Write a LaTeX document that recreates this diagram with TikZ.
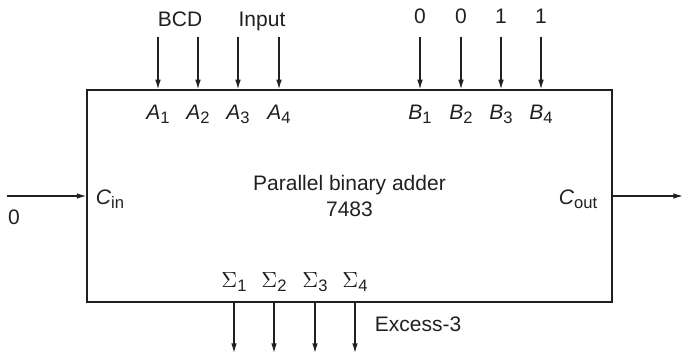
\documentclass[tikz,border=0pt]{standalone}
\usepackage{fontspec}
\setmainfont{Liberation Sans}
\usetikzlibrary{arrows.meta,positioning}
\definecolor{ink}{HTML}{231F20}
\newcommand{\subpin}[1]{\raisebox{-1.8pt}{\fontsize{8.3}{10}\selectfont #1}}
\newcommand{\pinname}[2]{\textit{#1}\subpin{#2}}
\tikzset{
  adderbox/.style={
    rectangle, draw=ink, line width=0.65pt, text=ink,
    minimum width=262.5pt, minimum height=106pt, inner sep=0pt,
    align=center, font=\fontsize{10.5}{13}\selectfont
  },
  pinarrow/.style={
    -{Latex[length=4.8pt, width=2.8pt]}, line width=0.65pt, draw=ink
  },
  pinlabel/.style={font=\fontsize{10.5}{13}\selectfont, text=ink, anchor=base, inner sep=0pt}
}

\begin{document}
\begin{tikzpicture}[x=0.5pt, y=-0.5pt]
    \useasboundingbox (0,0) rectangle (685,356);
    \node[adderbox] (adder) at (349.5,196) {Parallel binary adder\\7483};

    % A inputs
    \node[pinlabel] (bcd) at (180,27) {BCD};
    \node[pinlabel] (input) at (262,27) {Input};
    \node[pinlabel] (a1) at (158,120) {\pinname{A}{1}};
    \node[pinlabel] (a2) at (198,120) {\pinname{A}{2}};
    \node[pinlabel] (a3) at (238,120) {\pinname{A}{3}};
    \node[pinlabel] (a4) at (279,120) {\pinname{A}{4}};
    \draw[pinarrow] (a1 |- 0,37) -- (a1 |- adder.north);
    \draw[pinarrow] (a2 |- 0,37) -- (a2 |- adder.north);
    \draw[pinarrow] (a3 |- 0,37) -- (a3 |- adder.north);
    \draw[pinarrow] (a4 |- 0,37) -- (a4 |- adder.north);

    % B inputs
    \node[pinlabel] (b1) at (420,120) {\pinname{B}{1}};
    \node[pinlabel] (b2) at (461,120) {\pinname{B}{2}};
    \node[pinlabel] (b3) at (501,120) {\pinname{B}{3}};
    \node[pinlabel] (b4) at (541,120) {\pinname{B}{4}};
    \node[pinlabel] (b1val) at (420,24) {0};
    \node[pinlabel] (b2val) at (461,24) {0};
    \node[pinlabel] (b3val) at (501,24) {1};
    \node[pinlabel] (b4val) at (541,24) {1};
    \draw[pinarrow] (b1 |- 0,37) -- (b1 |- adder.north);
    \draw[pinarrow] (b2 |- 0,37) -- (b2 |- adder.north);
    \draw[pinarrow] (b3 |- 0,37) -- (b3 |- adder.north);
    \draw[pinarrow] (b4 |- 0,37) -- (b4 |- adder.north);

    % carries
    \coordinate (cinsrc) at (7,196);
    \coordinate (coutdst) at (683,196);
    \node[pinlabel] (cin) at (110,205) {\pinname{C}{in}};
    \node[pinlabel] (cinval) at (14,225) {0};
    \node[pinlabel] (cout) at (578,205) {\pinname{C}{out}};
    \draw[pinarrow] (cinsrc) -- (adder.west);
    \draw[pinarrow] (adder.east) -- (coutdst);

    % sum outputs
    \node[pinlabel] (s1) at (234,288) {$\Sigma$\subpin{1}};
    \node[pinlabel] (s2) at (274,288) {$\Sigma$\subpin{2}};
    \node[pinlabel] (s3) at (315,288) {$\Sigma$\subpin{3}};
    \node[pinlabel] (s4) at (355,288) {$\Sigma$\subpin{4}};
    \node[pinlabel] (excess) at (418,332) {Excess-3};
    \draw[pinarrow] (s1 |- adder.south) -- (s1 |- 0,353);
    \draw[pinarrow] (s2 |- adder.south) -- (s2 |- 0,353);
    \draw[pinarrow] (s3 |- adder.south) -- (s3 |- 0,353);
    \draw[pinarrow] (s4 |- adder.south) -- (s4 |- 0,353);
\end{tikzpicture}
\end{document}
